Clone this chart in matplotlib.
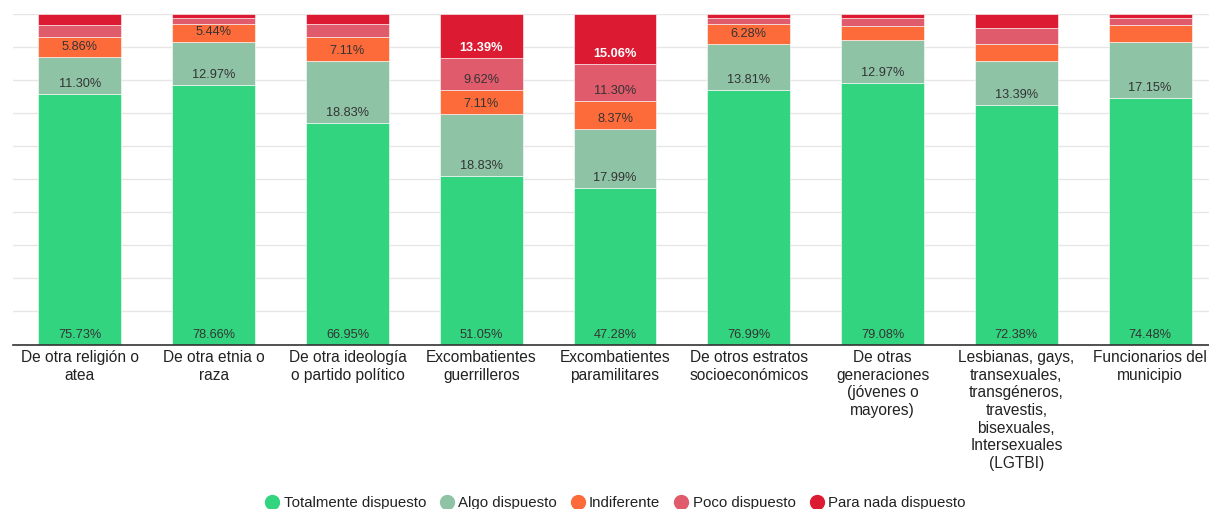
import matplotlib
matplotlib.use("Agg")
import matplotlib.pyplot as plt
from matplotlib.lines import Line2D
import numpy as np

plt.rcParams['font.family'] = ['Liberation Sans', 'DejaVu Sans']

categories = [
    "De otra religión o\natea",
    "De otra etnia o\nraza",
    "De otra ideología\no partido político",
    "Excombatientes\nguerrilleros",
    "Excombatientes\nparamilitares",
    "De otros estratos\nsocioeconómicos",
    "De otras\ngeneraciones\n(jóvenes o\nmayores)",
    "Lesbianas, gays,\ntransexuales,\ntransgéneros,\ntravestis,\nbisexuales,\nIntersexuales\n(LGTBI)",
    "Funcionarios del\nmunicipio",
]

series_names = ["Totalmente dispuesto", "Algo dispuesto", "Indiferente",
                "Poco dispuesto", "Para nada dispuesto"]

totalmente = [75.73, 78.66, 66.95, 51.05, 47.28, 76.99, 79.08, 72.38, 74.48]
algo = [11.30, 12.97, 18.83, 18.83, 17.99, 13.81, 12.97, 13.39, 17.15]
indiferente = [5.86, 5.44, 7.11, 7.11, 8.37, 6.28, 4.18, 5.02, 5.02]
poco = [3.77, 1.67, 4.18, 9.62, 11.30, 1.67, 2.51, 5.02, 2.09]
para_nada = [3.35, 1.26, 2.93, 13.39, 15.06, 1.26, 1.26, 4.18, 1.26]

colors = ["#33D47F", "#8FC3A6", "#FE6B3A", "#E05B6B", "#DC1A32"]
label_colors = ["#333333", "#333333", "#333333", "#333333", "white"]
label_weights = ["normal", "normal", "normal", "normal", "bold"]

fig = plt.figure(figsize=(12.09, 5.09), dpi=100)
ax = fig.add_axes([13 / 1209, 1 - 344.5 / 509, 1204 / 1209, 330.5 / 509])

x = np.arange(len(categories))
series = [totalmente, algo, indiferente, poco, para_nada]
bottom = np.zeros(len(categories))
for s_i, (vals, col) in enumerate(zip(series, colors)):
    vals = np.array(vals)
    ax.bar(x, vals, bottom=bottom, width=0.62, color=col, edgecolor='white',
           linewidth=0.4, zorder=3)
    for i in range(len(categories)):
        if vals[i] >= 5.3:
            ax.annotate(f"{vals[i]:.2f}%", xy=(x[i], bottom[i]),
                        xytext=(0, 10), textcoords='offset pixels',
                        ha='center', va='center', fontsize=9.2,
                        color=label_colors[s_i], fontweight=label_weights[s_i],
                        zorder=5)
    bottom += vals

ax.set_xlim(-0.5, len(categories) - 0.5)
ax.set_ylim(0, 100)
ax.set_yticks(np.arange(0, 101, 10))
ax.set_yticklabels([])
ax.tick_params(axis='y', length=0)
ax.grid(axis='y', color='#e6e6e6', linewidth=1, zorder=0)
for sp in ['top', 'right', 'left']:
    ax.spines[sp].set_visible(False)
ax.spines['bottom'].set_color('#333333')
ax.spines['bottom'].set_linewidth(1.2)
ax.spines['bottom'].set_zorder(4)

ax.set_xticks(x)
ax.set_xticklabels(categories, fontsize=11.2, color='#222222', linespacing=1.22)
ax.tick_params(axis='x', length=0, pad=4)

handles = [Line2D([0], [0], marker='o', linestyle='', markersize=10,
                  markerfacecolor=c, markeredgecolor=c) for c in colors]
fig.legend(handles, series_names, loc='center', bbox_to_anchor=(615 / 1209, 1 - 503 / 509),
           ncol=5, frameon=False, fontsize=10.8, handletextpad=0.25,
           columnspacing=0.9, handlelength=1.0, labelcolor='#222222')

fig.savefig("out.png", dpi=100)
